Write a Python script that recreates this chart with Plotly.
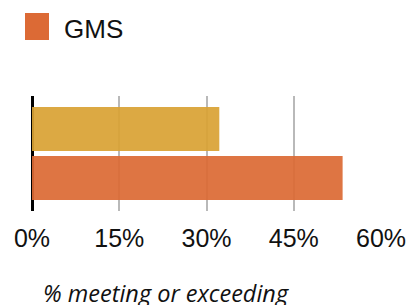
import plotly.graph_objects as go

# ---- data ----
categories = ["GMS"]
gms_values = [53.4]
comparison_values = [32.2]
tick_values = [0, 15, 30, 45, 60]
tick_labels = ["0%", "15%", "30%", "45%", "60%"]
axis_title = "% meeting or exceeding"
legend_label = "GMS"

ORANGE = "#DC6A35"
GOLD = "#D9A235"

fig = go.Figure()
# first trace sits at the bottom of a horizontal group
fig.add_trace(go.Bar(
    y=categories, x=gms_values, orientation="h", name=legend_label,
    marker=dict(color=ORANGE, line=dict(width=0)), opacity=0.93,
    showlegend=False, hoverinfo="x",
))
fig.add_trace(go.Bar(
    y=categories, x=comparison_values, orientation="h", name="Comparison",
    marker=dict(color=GOLD, line=dict(width=0)), opacity=0.93,
    showlegend=False, hoverinfo="x",
))

W, H = 409, 305
L, R, T, B = 32, 28, 96, 94
pw, ph = W - L - R, H - T - B

def px_x(p):
    return (p - L) / pw

def px_y(p):
    return (H - B - p) / ph

fig.update_layout(
    width=W, height=H,
    margin=dict(l=L, r=R, t=T, b=B, pad=0, autoexpand=False),
    paper_bgcolor="white", plot_bgcolor="white",
    barmode="group", bargap=0.15, bargroupgap=0.1,
    showlegend=False,
    xaxis=dict(
        range=[0, 60], tickvals=tick_values, ticktext=tick_labels,
        showgrid=True, gridcolor="#b9b9b9", gridwidth=2,
        zeroline=True, zerolinecolor="black", zerolinewidth=3,
        showline=False, ticks="", ticklabelstandoff=10,
        automargin=False,
        tickfont=dict(family="Liberation Sans, Arial, sans-serif", size=25, color="#111111"),
        fixedrange=True,
    ),
    yaxis=dict(
        showticklabels=False, showgrid=False, zeroline=False, showline=False,
        ticks="", fixedrange=True, automargin=False,
    ),
    shapes=[dict(
        type="rect", xref="paper", yref="paper",
        x0=px_x(25), x1=px_x(49), y0=px_y(40), y1=px_y(13),
        fillcolor=ORANGE, line=dict(width=0),
    )],
    annotations=[
        dict(
            text=legend_label, xref="paper", yref="paper",
            x=px_x(62), y=px_y(28.5), xanchor="left", yanchor="middle",
            showarrow=False,
            font=dict(family="Liberation Sans, Arial, sans-serif", size=26, color="#111111"),
        ),
        dict(
            text="<i>" + axis_title + "</i>", xref="paper", yref="paper",
            x=px_x(166), y=px_y(293), xanchor="center", yanchor="middle",
            showarrow=False,
            font=dict(family="Open Sans, sans-serif", size=23.5, color="#111111"),
        ),
    ],
)

fig.write_html("out.html", config={"displayModeBar": False},
               post_script="document.body.style.margin='0';")
